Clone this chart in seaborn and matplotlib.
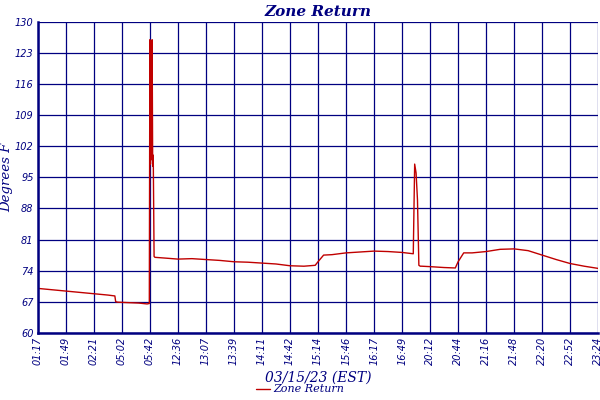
import matplotlib
matplotlib.use("Agg")
import matplotlib.pyplot as plt
import seaborn as sns
import pandas as pd

tick_labels = ["01:17","01:49","02:21","05:02","05:42","12:36","13:07","13:39","14:11","14:42",
               "15:14","15:46","16:17","16:49","20:12","20:44","21:16","21:48","22:20","22:52","23:24"]
y_ticks = [60,67,74,81,88,95,102,109,116,123,130]

# sample positions in tick-index units, and temperatures
t_pos = [0.0,0.5,1.0,1.5,2.0,2.5,2.75,2.78,2.85,3.2,3.6,3.9,3.98,4.0,4.02,4.04,4.06,4.08,4.1,4.12,4.15,4.18,
         4.6,5.0,5.5,6.0,6.5,7.0,7.5,8.0,8.5,9.0,9.5,9.9,10.0,10.2,10.5,11.0,11.5,12.0,12.5,13.0,13.4,
         13.45,13.5,13.55,13.6,13.65,13.7,14.0,14.5,14.9,15.0,15.2,15.5,16.0,16.5,17.0,17.5,18.0,18.5,19.0,19.5,20.0]
temps = [70.0,69.7,69.4,69.1,68.8,68.5,68.3,67.0,66.9,66.8,66.7,66.5,66.6,126.0,98.0,124.0,99.0,126.0,97.5,100.0,77.2,77.0,
         76.8,76.6,76.7,76.5,76.3,76.0,75.9,75.7,75.5,75.1,75.0,75.2,76.0,77.5,77.6,78.0,78.2,78.4,78.3,78.1,77.8,
         98.0,96.0,90.0,75.2,75.0,75.0,74.9,74.7,74.6,76.0,78.0,78.0,78.3,78.8,78.9,78.5,77.5,76.5,75.6,75.0,74.5]

df = pd.DataFrame({"pos": t_pos, "temp": temps})
navy = "#000080"

sns.set_theme(style="white")
plt.rcParams["font.family"] = ["DejaVu Sans"]
fig, ax = plt.subplots(figsize=(6, 4), dpi=100)
fig.subplots_adjust(left=0.063, right=0.997, top=0.945, bottom=0.168)

sns.lineplot(data=df, x="pos", y="temp", ax=ax, color="#c00000", linewidth=1.0, label="Zone Return")

ax.set_xlim(0, 20)
ax.set_ylim(60, 130)
ax.set_xticks(range(len(tick_labels)))
ax.set_xticklabels(tick_labels, rotation=90, fontsize=7, style="italic", color=navy)
ax.set_yticks(y_ticks)
ax.set_yticklabels([str(v) for v in y_ticks], fontsize=7, style="italic", color=navy)
ax.grid(True, color=navy, linewidth=0.9)
for s in ["left", "bottom"]:
    ax.spines[s].set_color(navy); ax.spines[s].set_linewidth(1.8)
for s in ["top", "right"]:
    ax.spines[s].set_visible(False)
ax.tick_params(length=0, pad=3)
ax.set_title("Zone Return", fontsize=11, style="italic", fontweight="bold", color=navy,
             family="DejaVu Serif", pad=4)
ax.set_ylabel("Degrees F", fontsize=9.5, style="italic", color=navy, family="DejaVu Serif", labelpad=1)
ax.set_xlabel("03/15/23 (EST)", fontsize=10, style="italic", color=navy, family="DejaVu Serif", labelpad=4)
ax.get_legend().remove()
leg = fig.legend(loc="lower center", bbox_to_anchor=(0.5, 0.0), frameon=False, fontsize=8,
                 handlelength=1.2, handletextpad=0.3, borderaxespad=0.1)
for t in leg.get_texts():
    t.set_color(navy); t.set_style("italic"); t.set_family("DejaVu Serif")
fig.savefig("out.png", dpi=100)
